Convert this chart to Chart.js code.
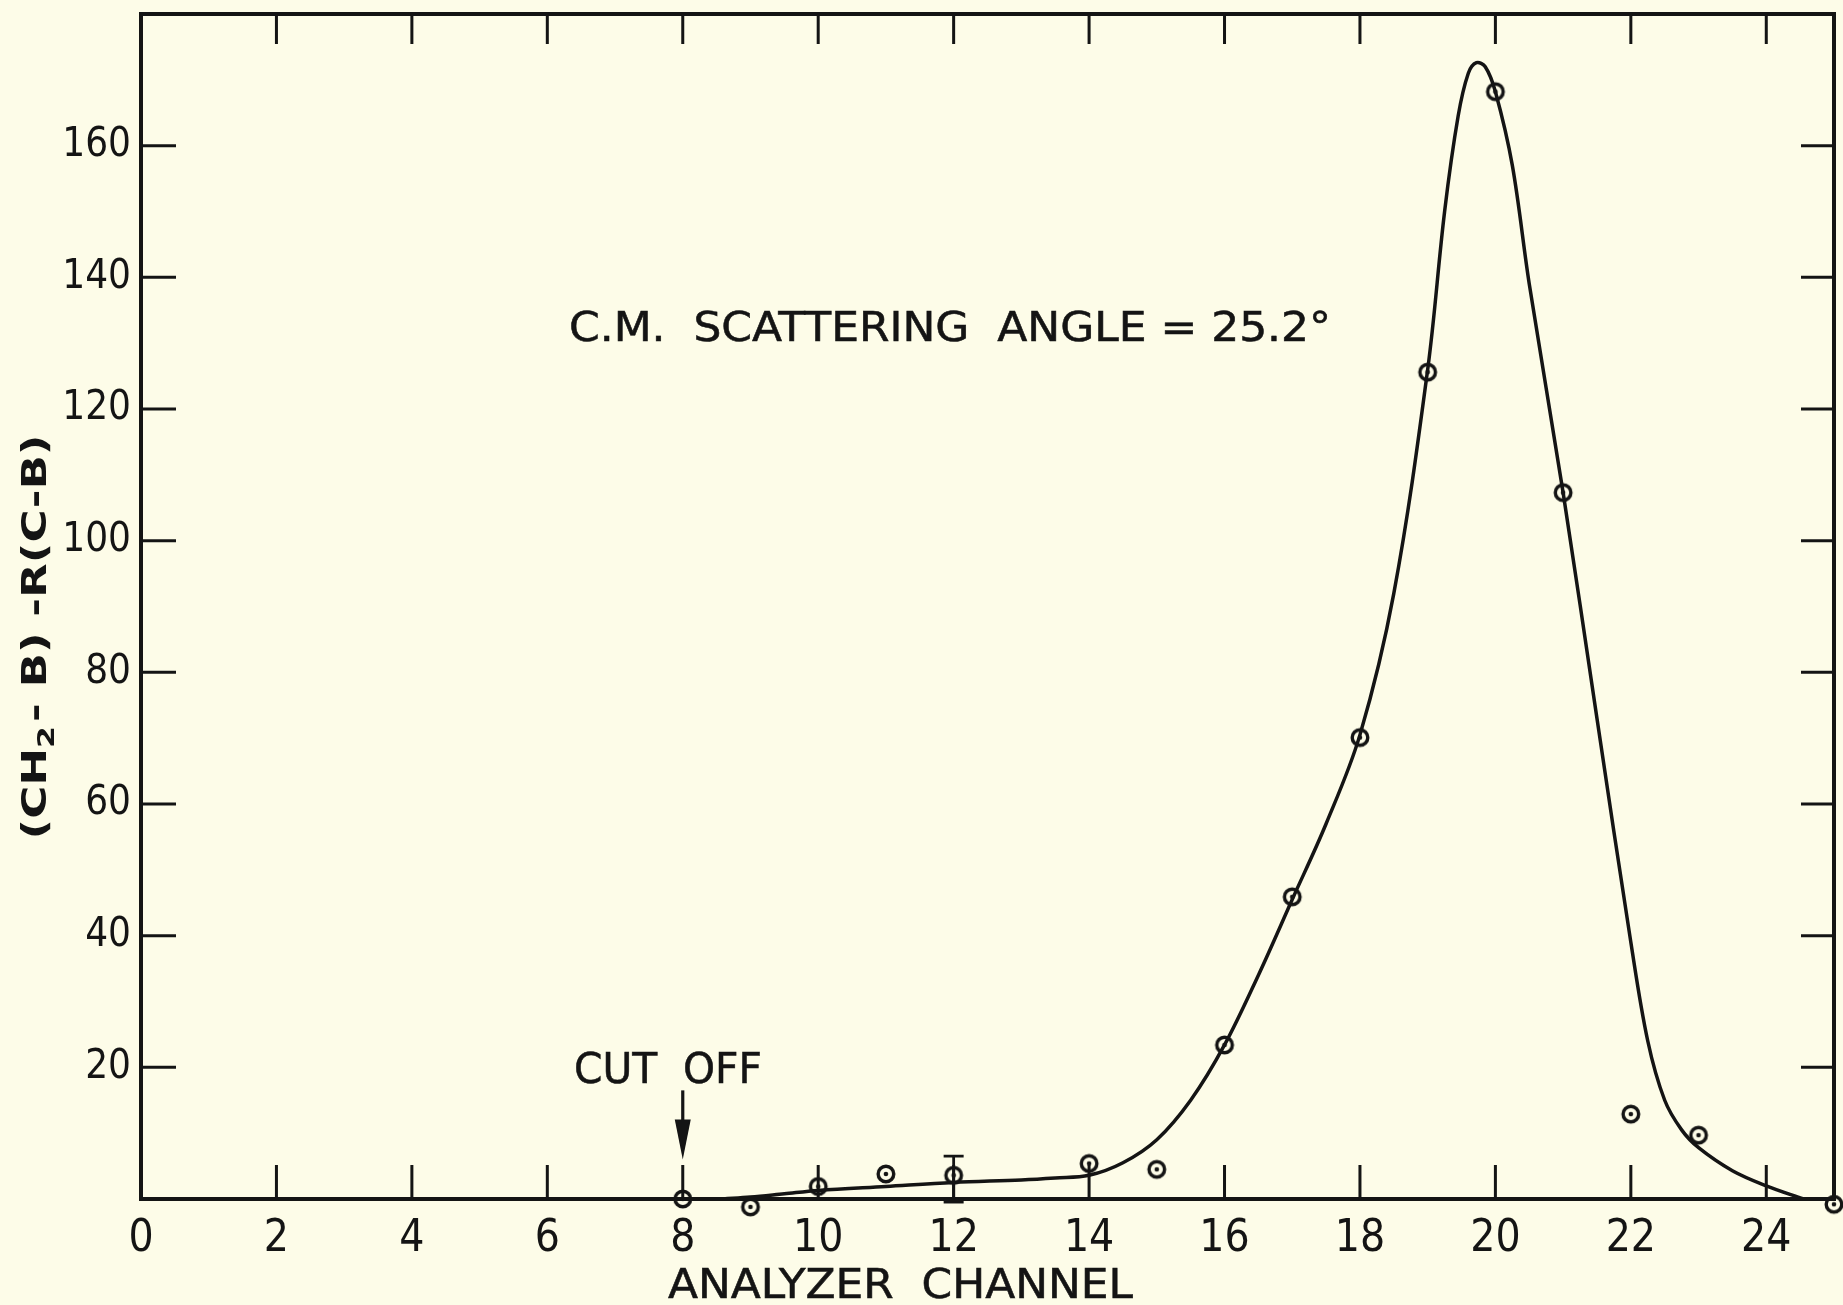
<!DOCTYPE html>
<html>
<head>
<meta charset="utf-8">
<script src="https://cdn.jsdelivr.net/npm/chart.js@4.4.1/dist/chart.umd.min.js"></script>
<style>
  html, body { margin: 0; padding: 0; background: #fdfce8; }
  canvas { display: block; }
</style>
</head>
<body>
<canvas id="chart" width="1843" height="1305"></canvas>
<script>
// measured points
const channels = [8, 9, 10, 11, 12, 13, 14, 15, 16, 17, 18, 19, 20, 21, 22, 23, 24, 25];
const counts = [0, -1.2, 1.9, 3.8, 3.6, -4.7, 5.4, 4.5, 23.4, 45.9, 70.1, 125.6, 168.2, 107.3, 12.9, 9.7, -1.8, -0.8];

// hand-drawn curve
const curveX = [8.6, 9, 9.5, 10, 11, 12, 13, 13.5, 14, 14.5, 15, 15.5, 16, 16.5, 17, 17.5, 18, 18.5, 19, 19.25, 19.45, 19.6, 19.72, 19.85, 20, 20.25, 20.5, 21, 21.5, 22, 22.25, 22.5, 22.75, 23, 23.5, 24, 24.55];
const curveY = [0, 0.3, 0.8, 1.3, 1.9, 2.5, 2.9, 3.2, 3.6, 5.5, 9, 15, 23.4, 34, 45.5, 57, 70.5, 92, 126, 150, 164.5, 171, 172.6, 172, 168.2, 157, 139, 107.3, 73, 39, 24, 15, 10.5, 7.8, 4.3, 2, 0];

// error bar on channel 12
const errX = 12, errLow = -0.3, errHigh = 6.5;

const xTicks = [0, 2, 4, 6, 8, 10, 12, 14, 16, 18, 20, 22, 24];
const yTicks = [20, 40, 60, 80, 100, 120, 140, 160];

const ink = "#141414";
const narrow = '"Liberation Sans Narrow", "DejaVu Sans Condensed", sans-serif';

function ringDot() {
    const c = document.createElement("canvas");
    c.width = 26; c.height = 26;
    const g = c.getContext("2d");
    g.strokeStyle = ink; g.lineWidth = 3.4;
    g.beginPath(); g.arc(13, 13, 7.8, 0, Math.PI * 2); g.stroke();
    g.fillStyle = ink;
    g.beginPath(); g.arc(13, 13, 2.3, 0, Math.PI * 2); g.fill();
    return c;
}

function fitText(ctx, str, x, y, width) {
    const w = ctx.measureText(str).width;
    ctx.save();
    ctx.translate(x, y);
    ctx.scale(width / w, 1);
    ctx.lineWidth = 0.5;
    ctx.fillText(str, 0, 0);
    ctx.strokeText(str, 0, 0);
    ctx.restore();
}

const decor = {
    id: "decor",
    afterDraw(chart) {
        const ctx = chart.ctx;
        const a = chart.chartArea;
        const xs = chart.scales.x, ys = chart.scales.y;
        ctx.save();
        ctx.strokeStyle = ink;
        ctx.fillStyle = ink;
        ctx.lineCap = "butt";

        // frame
        ctx.lineWidth = 4;
        ctx.strokeRect(a.left, a.top, a.right - a.left, a.bottom - a.top);

        // inward ticks
        ctx.lineWidth = 3;
        ctx.beginPath();
        xTicks.forEach(v => {
            if (v === 0) return;
            const px = xs.getPixelForValue(v);
            ctx.moveTo(px, a.bottom); ctx.lineTo(px, a.bottom - 34);
            ctx.moveTo(px, a.top); ctx.lineTo(px, a.top + 30);
        });
        yTicks.forEach(v => {
            const py = ys.getPixelForValue(v);
            ctx.moveTo(a.left, py); ctx.lineTo(a.left + 35, py);
            ctx.moveTo(a.right, py); ctx.lineTo(a.right - 33, py);
        });
        ctx.stroke();

        // error bar
        const ex = xs.getPixelForValue(errX);
        const eTop = ys.getPixelForValue(errHigh), eBot = ys.getPixelForValue(errLow);
        ctx.lineWidth = 2.8;
        ctx.beginPath();
        ctx.moveTo(ex, eTop); ctx.lineTo(ex, eBot);
        ctx.moveTo(ex - 10, eTop); ctx.lineTo(ex + 10, eTop);
        ctx.stroke();
        ctx.lineWidth = 5;
        ctx.beginPath();
        ctx.moveTo(ex - 10, eBot); ctx.lineTo(ex + 10, eBot);
        ctx.stroke();

        // cut off arrow
        const ax = xs.getPixelForValue(8);
        const aTop = ys.getPixelForValue(16.5), aTip = ys.getPixelForValue(6);
        ctx.lineWidth = 3.2;
        ctx.beginPath();
        ctx.moveTo(ax, aTop); ctx.lineTo(ax, aTip - 36);
        ctx.stroke();
        ctx.beginPath();
        ctx.moveTo(ax - 8, aTip - 40); ctx.lineTo(ax + 8, aTip - 40); ctx.lineTo(ax, aTip);
        ctx.closePath(); ctx.fill();

        // texts
        ctx.textBaseline = "alphabetic";
        ctx.textAlign = "left";
        ctx.font = "40px " + narrow;
        fitText(ctx, "C.M.  SCATTERING  ANGLE = 25.2°", 569, 341, 762);
        ctx.font = "42px " + narrow;
        fitText(ctx, "CUT  OFF", 574, 1083, 188);
        ctx.font = "40px " + narrow;
        fitText(ctx, "ANALYZER  CHANNEL", 668, 1298, 465);

        // y axis title with subscript
        ctx.translate(46, 637);
        ctx.rotate(-Math.PI / 2);
        const big = 'bold 33px "DejaVu Sans", sans-serif';
        const small = 'bold 23px "DejaVu Sans", sans-serif';
        const parts = [["(CH", big, 0], ["2", small, 8], ["- B) -R(C-B)", big, 0]];
        let total = 0;
        parts.forEach(p => { ctx.font = p[1]; total += ctx.measureText(p[0]).width + (p[0] === "2" ? 3 : 0); });
        ctx.scale(405 / total, 1);
        let cx = -total / 2;
        parts.forEach(p => {
            ctx.font = p[1];
            ctx.fillText(p[0], cx, p[2]);
            cx += ctx.measureText(p[0]).width + (p[0] === "2" ? 3 : 0);
        });
        ctx.restore();
    }
};

new Chart(document.getElementById("chart"), {
    type: "scatter",
    data: {
        datasets: [
            {
                label: "curve",
                data: curveX.map((x, i) => ({x: x, y: curveY[i]})),
                showLine: true,
                borderColor: ink,
                borderWidth: 3.5,
                pointRadius: 0,
                tension: 0.35,
                clip: false
            },
            {
                label: "data",
                data: channels.map((x, i) => ({x: x, y: counts[i]})),
                pointStyle: ringDot(),
                pointRadius: 8,
                clip: false
            }
        ]
    },
    options: {
        responsive: false,
        animation: false,
        devicePixelRatio: 1,
        layout: {padding: {top: 14, right: 4, left: 0, bottom: 0}},
        plugins: {legend: {display: false}, tooltip: {enabled: false}},
        scales: {
            x: {
                type: "linear", min: 0, max: 25,
                afterBuildTicks: s => { s.ticks = xTicks.map(v => ({value: v})); },
                afterFit: s => { s.height = 106; s.paddingLeft = 0; s.paddingRight = 0; },
                grid: {display: false, drawTicks: false},
                border: {display: false},
                ticks: {color: ink, padding: 14, font: {family: narrow, size: 44}}
            },
            y: {
                type: "linear", min: 0, max: 180,
                afterBuildTicks: s => { s.ticks = yTicks.map(v => ({value: v})); },
                afterFit: s => { s.width = 141; s.paddingTop = 0; s.paddingBottom = 0; },
                grid: {display: false, drawTicks: false},
                border: {display: false},
                ticks: {color: ink, padding: 10, font: {family: '"DejaVu Sans Condensed", "DejaVu Sans", sans-serif', size: 40}}
            }
        }
    },
    plugins: [decor]
});
</script>
</body>
</html>
